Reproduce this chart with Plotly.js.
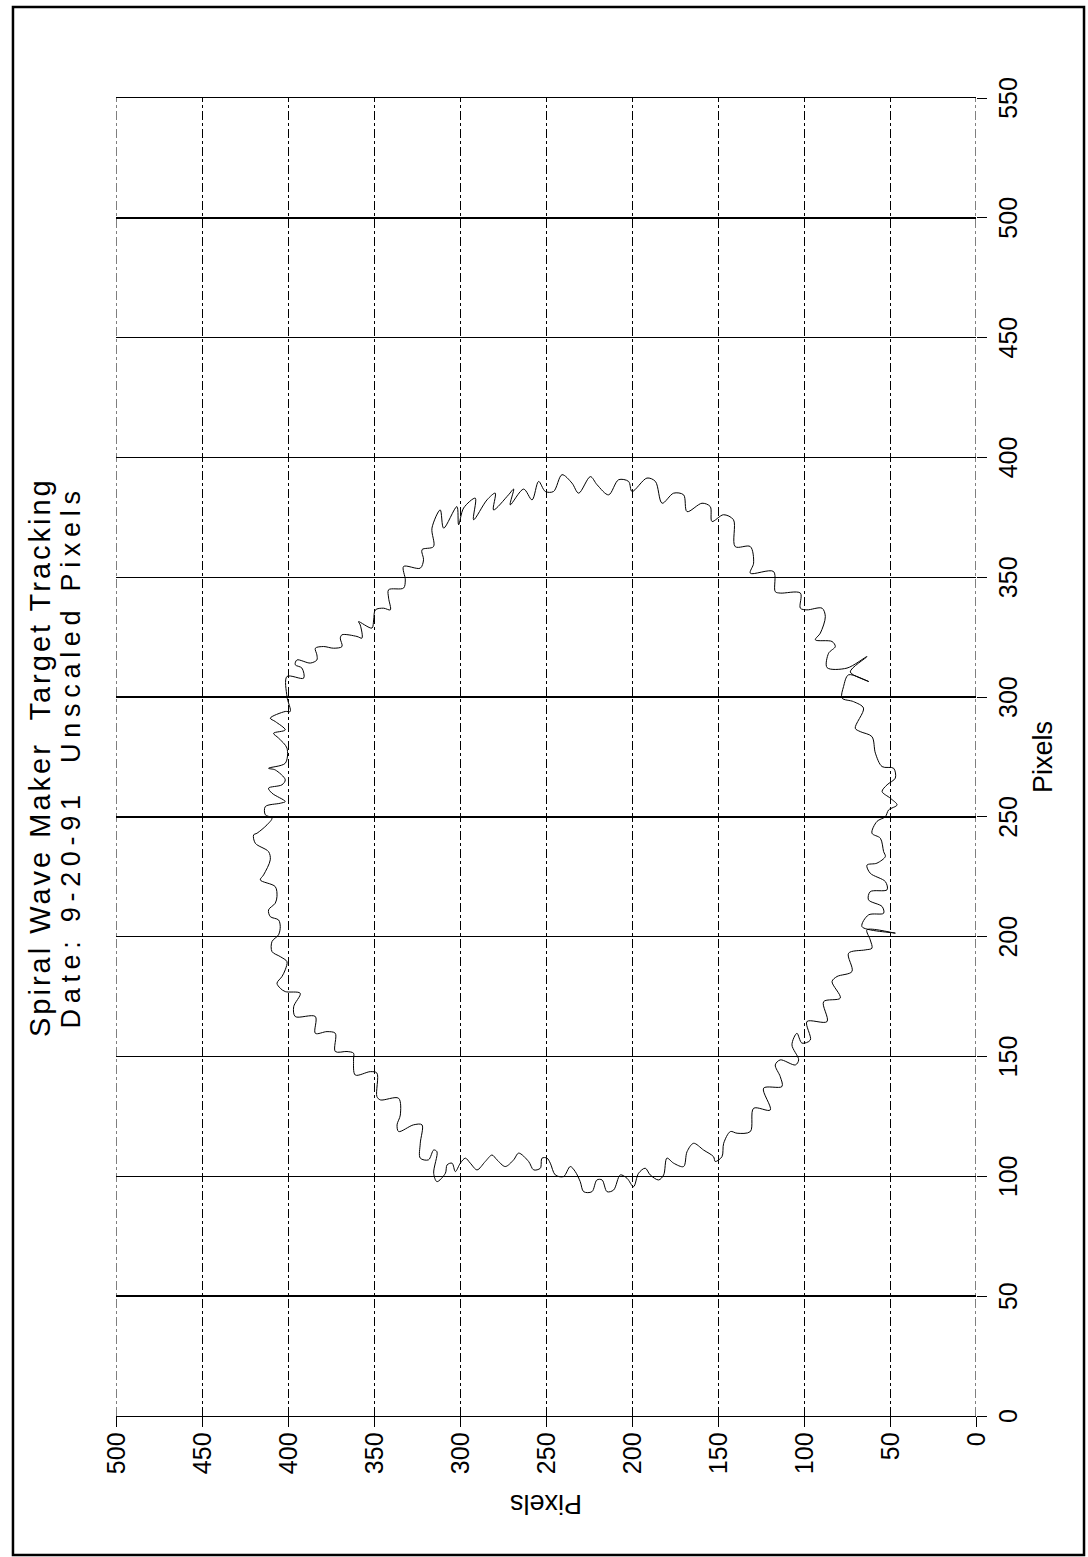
<!DOCTYPE html>
<html>
<head>
<meta charset="utf-8">
<script src="https://cdn.plot.ly/plotly-3.0.1.min.js"></script>
<style>
  html, body { margin: 0; padding: 0; background: #fff; width: 1088px; height: 1557px; overflow: hidden; }
  #plot { position: absolute; left: 0; top: 0; width: 1557px; height: 1088px;
          transform-origin: 0 0; transform: translate(0px, 1557px) rotate(-90deg); }
  #plot .annotation[data-index="0"] .annotation-text { letter-spacing: 3px; }
  #plot .annotation[data-index="1"] .annotation-text { letter-spacing: 5.7px; }
</style>
</head>
<body>
<div id="plot"></div>
<script>
// Chart text
const titleLine1 = "Spiral Wave Maker  Target Tracking";
const titleLine2 = "Date: 9-20-91  Unscaled Pixels";
const xTitle = "Pixels";
const yTitle = "Pixels";

// Axis ticks
const xTicks = [0, 50, 100, 150, 200, 250, 300, 350, 400, 450, 500, 550];
const yTicks = [0, 50, 100, 150, 200, 250, 300, 350, 400, 450, 500];
const xRange = [0, 550];
const yRange = [0, 500];

// Tracked target path (pixels)
const trackX = [362.8,370.5,378.1,370.5,379.5,371.9,378.9,383.0,374.0,382.3,385.1,378.1,384.4,386.8,380.2,386.8,382.3,390.0,385.8,
385.8,392.8,389.3,385.1,392.0,388.6,384.4,390.7,390.0,385.8,391.4,390.0,380.9,385.1,384.4,377.4,380.9,379.5,373.3,376.1,374.0,362.8,362.8,
355.9,351.7,352.4,344.0,343.4,343.4,337.1,336.4,337.1,333.6,326.7,323.9,323.2,321.1,318.3,312.3,312.1,316.9,310.5,306.5,309.3,
304.4,299.6,298.1,295.4,287.0,285.6,283.5,276.6,271.0,270.3,266.2,263.4,260.6,257.8,255.0,252.9,250.1,248.1,243.2,241.1,235.5,233.5,
230.7,229.9,226.5,223.0,219.6,218.8,215.4,212.6,209.8,209.1,204.2,201.5,202.9,198.7,195.2,194.5,193.1,185.5,183.4,181.3,174.4,172.9,164.6,
164.6,156.9,155.6,159.7,154.9,148.6,146.5,148.6,146.5,141.6,137.5,136.8,127.7,128.4,118.7,118.0,118.7,113.8,108.2,106.2,108.2,111.0,
113.8,110.3,104.1,105.5,107.6,100.6,98.5,100.6,103.4,101.3,95.7,99.2,100.6,94.3,93.6,98.5,98.5,93.6,93.6,97.8,102.0,104.1,99.9,100.6,
105.5,107.6,107.6,103.4,102.7,106.2,109.7,106.9,104.1,106.9,108.9,106.2,102.7,105.5,107.6,105.5,102.0,105.5,104.8,101.3,97.8,101.3,
110.3,111.0,106.9,107.6,113.8,121.5,121.5,118.7,121.5,125.6,132.6,131.9,133.3,143.1,143.7,142.3,148.6,151.4,152.1,152.1,159.7,160.4,
159.7,166.7,166.7,170.8,176.4,177.1,178.5,180.6,183.4,186.2,189.6,191.7,193.8,198.0,200.8,204.2,207.0,208.4,211.2,214.0,216.8,220.9,
223.7,225.8,232.1,235.5,239.0,242.5,243.2,246.7,249.5,250.9,254.3,255.7,256.4,259.9,262.0,263.4,265.5,269.6,270.3,272.4,278.7,282.9,
284.9,286.3,289.8,291.2,294.0,294.0,300.2,308.6,307.9,312.1,313.5,315.5,314.2,315.5,317.6,320.4,321.1,320.4,321.1,324.6,326.0,325.3,
324.6,330.1,331.5,328.8,332.2,336.4,337.1,336.4,341.3,344.8,345.5,348.9,354.5,353.8,357.3,361.5,362.8];
const trackY = [315.4,316.3,311.5,309.5,301.8,300.8,297.9,291.1,292.1,284.3,279.5,280.5,271.8,268.8,270.8,263.0,258.1,254.3,250.4,
245.6,240.7,234.9,231.0,224.2,220.3,213.6,207.8,202.0,200.0,191.3,186.4,182.5,175.8,170.0,168.0,159.3,154.5,153.5,146.8,141.0,140.0,131.2,
129.3,131.2,117.7,116.7,113.8,102.1,102.1,98.3,89.5,87.6,90.5,93.4,83.7,81.8,85.7,86.6,75.0,63.4,73.1,62.4,74.1,
77.0,77.9,71.2,65.4,70.2,67.3,60.5,58.5,54.6,47.9,46.9,51.7,54.6,49.8,45.9,50.8,52.7,57.6,60.5,55.6,53.7,52.7,
57.6,63.4,61.5,52.7,51.7,61.5,62.5,54.6,53.7,62.5,66.3,46.9,63.4,61.5,60.5,64.4,74.1,72.1,80.8,83.7,78.9,88.6,86.6,
98.3,96.3,101.2,104.1,107.0,103.1,105.0,113.8,116.7,113.8,112.8,123.5,119.6,129.3,131.2,138.9,142.8,146.7,147.7,151.6,152.6,158.4,
164.2,168.0,170.0,175.8,179.7,181.6,184.5,189.4,192.3,196.2,199.1,202.9,206.8,210.7,214.5,217.4,220.4,223.3,228.1,230.1,233.0,235.9,239.8,244.6,
247.5,249.4,252.3,253.3,257.2,260.1,265.9,268.8,273.7,278.5,281.4,285.3,290.1,294.0,296.9,299.8,302.7,304.6,307.5,308.5,313.4,315.3,
313.4,315.3,318.3,323.1,323.1,322.1,327.0,335.7,336.6,334.7,335.7,346.3,348.3,348.3,352.1,360.9,361.9,361.9,365.7,372.5,372.5,377.3,
384.1,384.1,395.8,396.7,392.9,401.6,404.5,406.4,403.5,401.6,400.6,404.5,409.3,409.3,405.5,404.5,405.5,410.3,411.3,407.4,406.4,407.4,
416.1,414.2,410.3,411.3,419.0,420.0,418.0,412.2,409.3,413.2,413.2,404.5,401.6,409.3,411.3,403.5,401.6,407.4,411.3,401.6,400.6,405.5,
408.4,401.6,407.4,410.3,401.6,398.7,400.6,400.6,390.9,391.9,395.8,394.8,387.0,383.2,383.2,384.1,379.3,373.5,368.6,369.6,368.6,359.9,
357.0,358.0,359.0,351.2,350.2,349.2,344.4,340.5,341.5,341.5,332.8,331.8,332.8,323.1,321.2,322.1,315.4];

const FONT = "Liberation Sans, Arial, sans-serif";

const trace = {
  type: "scatter",
  mode: "lines",
  x: trackX,
  y: trackY,
  line: { color: "#000", width: 1, shape: "spline", smoothing: 0.9 },
  hoverinfo: "skip"
};

// Dash-dot edge grid lines at the ends of the y range (Plotly drops grid lines on the plot edges)
const edgeShapes = yRange.map(v => ({
  type: "line", xref: "paper", yref: "y", x0: 0, x1: 1, y0: v, y1: v,
  line: { color: "#000", width: 1, dash: "dashdot" }, layer: "below"
}));

const layout = {
  width: 1557,
  height: 1088,
  margin: { l: 141, r: 98, t: 116, b: 112 },
  paper_bgcolor: "#fff",
  plot_bgcolor: "#fff",
  showlegend: false,
  font: { family: FONT, color: "#000" },
  xaxis: {
    range: xRange,
    tickvals: xTicks,
    ticktext: xTicks.map(String),
    showgrid: true, gridcolor: "#000", gridwidth: 1.4,
    zeroline: false, showline: false,
    ticks: "outside", ticklen: 10, tickcolor: "#000", tickwidth: 1,
    tickfont: { family: FONT, size: 25, color: "#000" },
    title: { text: xTitle, font: { family: FONT, size: 27, color: "#000" }, standoff: 12 }
  },
  yaxis: {
    range: yRange,
    tickvals: yTicks,
    ticktext: yTicks.map(String),
    showgrid: true, gridcolor: "#000", gridwidth: 1, griddash: "dashdot",
    zeroline: false,
    showline: true, mirror: true, linecolor: "#000", linewidth: 1.4,
    ticks: "outside", ticklen: 10, tickcolor: "#000", tickwidth: 1,
    tickfont: { family: FONT, size: 25, color: "#000" },
    title: { text: yTitle, font: { family: FONT, size: 27, color: "#000" }, standoff: 12 }
  },
  annotations: [
    { text: titleLine1, xref: "paper", yref: "paper", x: 0.5, y: 1.0884,
      xanchor: "center", yanchor: "middle", showarrow: false,
      font: { family: FONT, size: 29, color: "#000" } },
    { text: titleLine2, xref: "paper", yref: "paper", x: 0.5, y: 1.0523,
      xanchor: "center", yanchor: "middle", showarrow: false,
      font: { family: FONT, size: 27, color: "#000" } }
  ],
  shapes: edgeShapes.concat([
    { type: "rect", xref: "paper", yref: "paper",
      x0: -0.1055, x1: 1.0690, y0: -0.1256, y1: 1.1198,
      line: { color: "#000", width: 2.5 }, fillcolor: "rgba(0,0,0,0)" }
  ])
};

Plotly.newPlot("plot", [trace], layout, { staticPlot: true, displayModeBar: false });
</script>
</body>
</html>
